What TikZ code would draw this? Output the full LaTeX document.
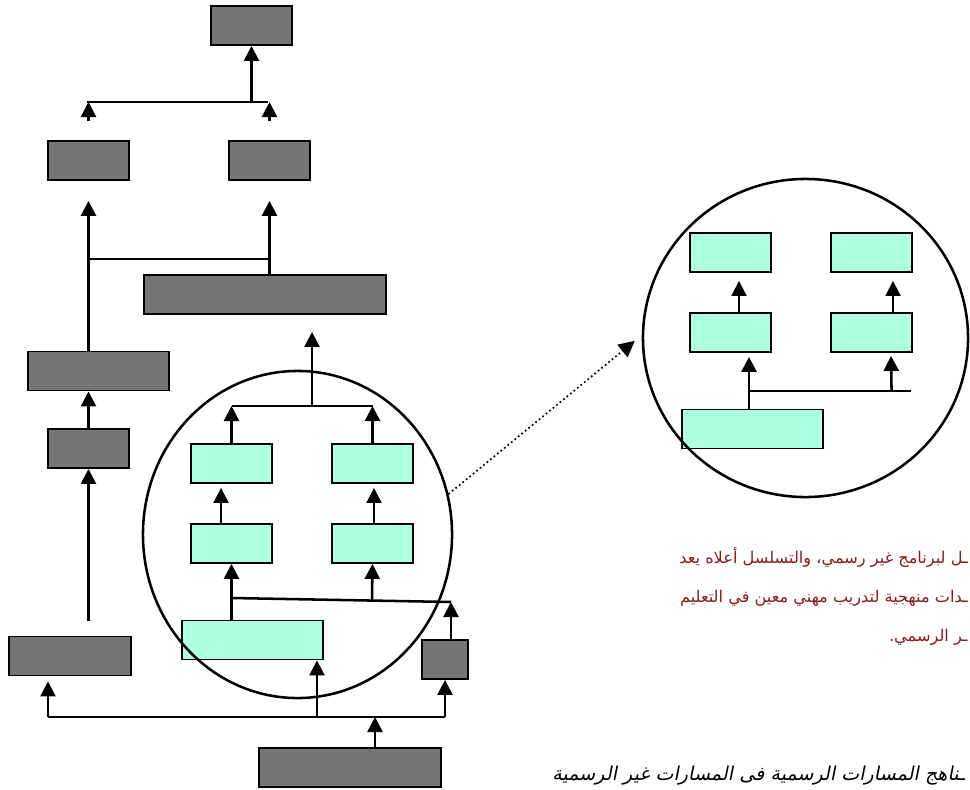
\documentclass[tikz,border=0pt]{standalone}
\usepackage{fontspec}
\usepackage{tikz}
\usetikzlibrary{arrows.meta,calc,shapes.geometric}
\TeXXeTstate=1
\newfontfamily\arabicfont[Script=Arabic]{DejaVu Sans}
\newfontfamily\arabicslant[Script=Arabic,FakeSlant=0.2]{DejaVu Sans}
\definecolor{boxgrey}{RGB}{117,117,117}
\definecolor{boxteal}{RGB}{172,255,223}
\definecolor{notered}{RGB}{139,26,26}

\tikzset{
  gbox/.style={draw, fill=boxgrey, line width=1.3pt, minimum height=0.975cm, inner sep=0pt},
  tbox/.style={draw, fill=boxteal, line width=1.3pt, minimum height=0.975cm, inner sep=0pt},
  link/.style={line width=1.8pt},
  arr/.style={line width=1.8pt, -{Triangle[width=0.375cm,length=0.375cm]}},
  zone/.style={draw, ellipse, line width=1.8pt, inner sep=0pt},
}

\begin{document}
\begin{tikzpicture}[x=0.025cm,y=-0.025cm]
  \useasboundingbox (0,0) rectangle (970,789);
  % grey boxes
  \node[gbox, minimum width=2.025cm] (gtop) at (251.5,25.5) {};
  \node[gbox, minimum width=2.025cm] (gleft) at (88.5,160.5) {};
  \node[gbox, minimum width=2.025cm] (gright) at (269.5,160.5) {};
  \node[gbox, minimum width=6.05cm] (gwide) at (265,294.5) {};
  \node[gbox, minimum width=3.525cm] (gmid) at (98.5,371) {};
  \node[gbox, minimum width=2.025cm] (gsmall) at (88.5,448.5) {};
  \node[gbox, minimum width=3.05cm] (gbl) at (70,656) {};
  \node[gbox, minimum width=1.15cm] (gtiny) at (445,659.5) {};
  \node[gbox, minimum width=4.55cm] (gbottom) at (350,767.5) {};
  % teal boxes in the left circle
  \node[tbox, minimum width=2.025cm] (tul) at (231.5,463.5) {};
  \node[tbox, minimum width=2.025cm] (tur) at (372.5,463.5) {};
  \node[tbox, minimum width=2.025cm] (tml) at (231.5,543.5) {};
  \node[tbox, minimum width=2.025cm] (tmr) at (372.5,543.5) {};
  \node[tbox, minimum width=3.525cm] (tlow) at (252.5,640) {};
  % teal boxes in the right circle
  \node[tbox, minimum width=2.025cm] (rul) at (730.5,252.5) {};
  \node[tbox, minimum width=2.025cm] (rur) at (871.5,252.5) {};
  \node[tbox, minimum width=2.025cm] (rml) at (730.5,332.5) {};
  \node[tbox, minimum width=2.025cm] (rmr) at (871.5,332.5) {};
  \node[tbox, minimum width=3.525cm] (rlow) at (752.5,429) {};
  % circles
  \node[zone, minimum width=7.725cm, minimum height=8.175cm] (lzone) at (297.5,534.5) {};
  \node[zone, minimum width=8.125cm, minimum height=7.95cm] (rzone) at (805.5,338) {};

  % top joints
  \coordinate (topbarl) at (87,102);
  \coordinate (topbarr) at (268,102);
  \draw[link] (topbarl) -- (topbarr);
  \draw[arr] (gtop.south |- topbarl) -- (gtop.south);
  \draw[arr] ($(gleft.north)+(0,-19)$) -- (gleft.north |- topbarl);
  \draw[arr] ($(gright.north)+(0,-19)$) -- (gright.north |- topbarl);
  % middle joints
  \coordinate (midbarl) at (88.5,259);
  \coordinate (midbarr) at (269.5,259);
  \draw[link] (midbarl) -- (midbarr);
  \draw[arr] (gmid.north -| gleft.south) -- ($(gleft.south)+(0,20)$);
  \draw[arr] (gwide.north -| gright.south) -- ($(gright.south)+(0,20)$);
  \draw[arr] (gsmall.north) -- (gmid.south -| gsmall.north);
  \coordinate (lstem) at (88.5,621);
  \draw[arr] (lstem) -- (gsmall.south);
  % left circle
  \coordinate (cbarl) at (231.5,406);
  \coordinate (cbarr) at (372.5,406);
  \coordinate (cbarm) at (312,406);
  \draw[link] (cbarl) -- (cbarr);
  \draw[arr] (cbarm) -- ($(gwide.south -| cbarm)+(0,17)$);
  \draw[arr] (tul.north) -- (cbarl);
  \draw[arr] (tur.north) -- (cbarr);
  \draw[arr, line width=1.3pt] ($(tml.north)+(-10.5,0)$) -- ($(tul.south)+(-10.5,4)$);
  \draw[arr, line width=1.3pt] ($(tmr.north)+(1.5,0)$) -- ($(tur.south)+(1.5,4)$);
  \coordinate (cjoin) at (231.5,598);
  \coordinate (cjoinr) at (451,602);
  \draw[link] (cjoin) -- (cjoinr);
  \draw[arr] (tlow.north -| cjoin) -- (tml.south);
  \draw[arr] ($(cjoin)!0.64!(cjoinr)$) -- (tmr.south);
  \draw[arr] (gtiny.north -| cjoinr) -- (cjoinr);
  % bottom joints
  \coordinate (botl) at (48,717);
  \coordinate (botr) at (445,717);
  \coordinate (botm) at (317,717);
  \coordinate (botin) at (375,717);
  \draw[link] (botl) -- (botr);
  \draw[arr] (gbottom.north -| botin) -- (botin);
  \draw[arr] (botl) -- ($(gbl.south -| botl)+(0,5)$);
  \draw[arr] (botm) -- (tlow.south -| botm);
  \draw[arr] (botr) -- (gtiny.south);
  % right circle
  \draw[arr, line width=1.3pt] ($(rml.north)+(8.5,0)$) -- ($(rul.south)+(8.5,8)$);
  \draw[arr, line width=1.3pt] ($(rmr.north)+(21.5,0)$) -- ($(rur.south)+(21.5,8)$);
  \coordinate (rjoin) at (749,391);
  \coordinate (rjoinr) at (911,391);
  \draw[link] (rjoin) -- (rjoinr);
  \draw[arr] (rlow.north -| rjoin) -- ($(rml.south -| rjoin)+(0,4)$);
  \draw[arr] ($(rjoin)!0.88!(rjoinr)$) -- ($(rmr.south)+(19.5,3)$);
  % zoom arrow
  \draw[dotted, line width=1.2pt, -{Triangle[width=0.4cm,length=0.4cm]}, shorten >=0.225cm]
    (lzone.15) -- (rzone.179);

  % texts
  \node[anchor=north east, align=right, text=notered, inner sep=0pt,
        font=\arabicfont\fontsize{11.5}{27.7}\selectfont] (note) at (968,547)
    {\beginR ـل لبرنامج غير رسمي، والتسلسل أعلاه يعد\endR\\
     \beginR ـدات منهجية لتدريب مهني معين في التعليم\endR\\
     \beginR ـر الرسمي.\endR};
  \node[anchor=east, inner sep=0pt,
        font=\arabicslant\fontsize{13.6}{16}\selectfont] (caption) at (965,776)
    {\beginR ـناهج المسارات الرسمية فى المسارات غير الرسمية\endR};
\end{tikzpicture}
\end{document}
